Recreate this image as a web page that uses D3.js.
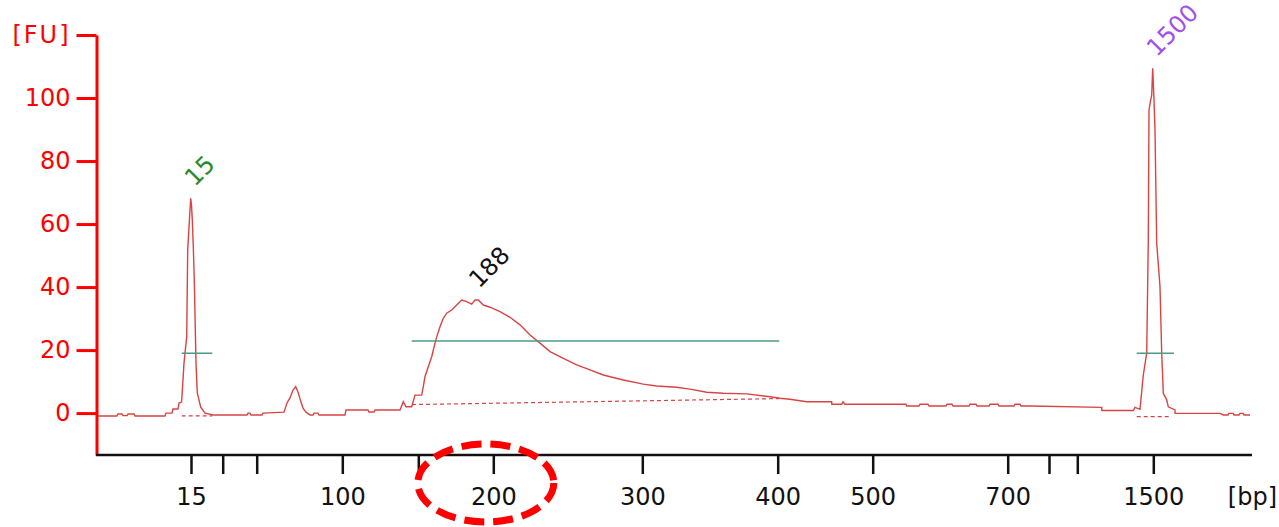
<!DOCTYPE html>
<html>
<head>
<meta charset="utf-8">
<script src="https://cdn.jsdelivr.net/npm/d3@7"></script>
<style>
  body { margin: 0; background: #fff; }
  text { font-family: "DejaVu Sans", Verdana, sans-serif; }
</style>
</head>
<body>
<div id="chart"></div>
<script>
// ladder sizes (bp) and the migration time (s) each one was seen at
const ladderBp   = [15, 25, 50, 100, 150, 200, 300, 400, 500, 700, 850, 1000, 1500];
const ladderTime = [29.5, 32.67, 36.07, 44.63, 52.23, 59.73, 74.63, 88.17, 97.67, 111.17, 115.3, 118.13, 125.73];
const labelledBp = [15, 100, 200, 300, 400, 500, 700, 1500];

const fuTicks = [0, 20, 40, 60, 80, 100, 120];

// electropherogram trace: [time s, FU]
const trace = [
  [20.1,-0.9],[22.1,-0.9],[22.2,-0.3],[22.6,-0.3],[22.7,-0.8],[23.1,-0.8],[23.2,-0.3],[23.8,-0.3],
  [23.9,-0.9],[26.9,-0.9],[27.0,0.0],[27.6,0.0],[27.7,1.3],[28.2,1.3],[28.3,3.2],[28.55,3.5],
  // lower marker
  [28.6,5.4],[28.8,15.9],[29.07,24.2],[29.17,51.8],[29.3,59.0],[29.47,68.2],[29.55,66.0],[29.63,61.3],
  [29.73,52.7],[29.83,42.2],[30.0,15.9],[30.13,6.4],[30.47,1.9],[30.9,0.0],[31.7,-0.6],
  [35.1,-0.6],[35.2,0.0],[35.4,0.0],[35.5,-0.6],[36.6,-0.6],[36.7,0.0],[38.8,0.3],
  // small peak
  [39.1,3.2],[39.4,4.8],[39.7,7.3],[39.97,8.4],[40.2,6.7],[40.4,4.5],[40.7,1.6],[41.0,0.3],[41.4,-0.6],
  [41.7,-0.6],[41.8,0.0],[42.2,0.0],[42.3,-0.6],[44.9,-0.6],[45.0,1.0],[47.2,1.0],[47.3,0.35],
  [47.8,0.35],[47.9,1.0],[50.4,1.0],
  // library smear
  [50.73,3.6],[51.0,2.0],[51.57,2.0],[51.9,5.7],[52.57,5.7],[52.73,8.4],[52.9,11.6],[53.23,14.7],
  [53.57,17.9],[53.9,22.2],[54.07,24.2],[54.4,27.4],[54.73,30.1],[55.07,31.7],[55.57,32.7],[56.07,34.3],
  [56.57,35.9],[57.07,35.4],[57.57,34.6],[57.9,35.9],[58.23,35.9],[58.73,34.3],[59.4,33.6],[60.4,32.2],
  [61.4,30.4],[62.4,28.0],[63.4,24.8],[64.4,22.2],[65.4,19.5],[66.73,17.4],[68.07,15.3],[69.4,13.7],
  [70.73,12.1],[72.73,10.5],[74.73,9.2],[76.07,8.6],[78.07,8.2],[79.4,7.6],[81.07,6.6],[82.73,6.3],
  [85.07,6.1],[87.4,5.2],[88.4,4.7],[89.4,4.4],[91.07,3.6],[93.57,3.6],[93.58,2.8],[94.57,2.8],
  [94.7,3.6],[94.9,2.8],[99.4,2.8],[101.0,2.8],[101.07,2.25],[102.3,2.25],[102.4,2.8],[103.2,2.8],
  [103.3,2.25],[105.0,2.25],[105.1,2.8],[105.6,2.8],[105.7,2.25],[107.3,2.25],[107.4,2.8],[108.0,2.8],
  [108.1,2.25],[109.3,2.25],[109.4,2.8],[110.2,2.8],[110.3,2.25],[111.8,2.25],[111.9,2.8],[112.4,2.8],
  [112.5,2.25],[113.4,2.25],[120.57,1.8],[120.58,0.8],[123.73,0.8],[123.9,1.8],[124.4,1.2],
  // upper marker
  [124.73,12.1],[125.07,19.0],[125.23,54.9],[125.3,96.2],[125.47,99.4],[125.57,100.9],[125.67,109.4],
  [125.8,99.4],[125.9,89.8],[126.07,53.9],[126.4,40.1],[126.57,19.0],[126.73,6.3],[127.07,4.2],
  [127.23,2.0],[127.9,1.0],[127.91,-0.1],[132.4,-0.1],[132.73,-0.6],[133.2,-0.6],[133.3,-0.1],
  [133.7,-0.1],[133.8,-0.6],[134.3,-0.6],[134.4,-0.1],[134.7,-0.1],[134.8,-0.6],[135.4,-0.6]
];

// peak baselines (dashed) and peak / region widths (green)
const baselines = [
  [[28.57, -0.9], [31.63, -0.9]],
  [[51.6, 2.7], [88.3, 4.6]],
  [[124.07, -1.1], [127.57, -1.1]]
];
const widths = [
  [[28.57, 19.0], [31.63, 19.0]],
  [[51.57, 22.9], [88.33, 22.9]],
  [[124.07, 19.0], [127.8, 19.0]]
];

const peakLabels = [
  {t: 29.47, fu: 68.2, text: "15", color: "#2a8a2a"},
  {t: 57.9, fu: 35.9, text: "188", color: "#111"},
  {t: 125.67, fu: 109.4, text: "1500", color: "#a24ff0"}
];

const width = 1279, height = 527;

const svg = d3.select("#chart").append("svg")
  .attr("width", width)
  .attr("height", height);

svg.append("rect").attr("width", width).attr("height", height).attr("fill", "#fff");

const x = d3.scaleLinear().domain([20, 135.6]).range([96, 1252]);
const y = d3.scaleLinear().domain([-13.3, 120]).range([455, 35]);

// bp axis is placed through the ladder calibration
const bpScale = d3.scaleLinear().domain(ladderBp).range(ladderTime.map(t => x(t)));

const line = d3.line().x(d => x(d[0])).y(d => y(d[1]));

// trace
svg.append("path")
  .datum(trace)
  .attr("d", line)
  .attr("fill", "none")
  .attr("stroke", "#d84444")
  .attr("stroke-width", 1.4);

// dashed baselines
svg.selectAll(".baseline")
  .data(baselines)
  .enter().append("path")
  .attr("class", "baseline")
  .attr("d", line)
  .attr("fill", "none")
  .attr("stroke", "#d84444")
  .attr("stroke-width", 1.2)
  .attr("stroke-dasharray", "4 3");

// widths
svg.selectAll(".width")
  .data(widths)
  .enter().append("path")
  .attr("class", "width")
  .attr("d", line)
  .attr("stroke", "#4e9a86")
  .attr("stroke-width", 1.5);

// peak labels
svg.selectAll(".peak-label")
  .data(peakLabels)
  .enter().append("text")
  .attr("class", "peak-label")
  .attr("transform", d => `translate(${x(d.t) + 4}, ${y(d.fu) - 11}) rotate(-45)`)
  .attr("font-size", 24)
  .attr("fill", d => d.color)
  .text(d => d.text);

// y axis
const yAxis = svg.append("g")
  .attr("transform", "translate(96.5,0)")
  .call(d3.axisLeft(y)
    .tickValues(fuTicks)
    .tickSize(20)
    .tickSizeOuter(0)
    .tickPadding(6)
    .tickFormat(d => d === 120 ? "[FU]" : d));

yAxis.select(".domain").attr("stroke", "red").attr("stroke-width", 3);
yAxis.selectAll(".tick line").attr("stroke", "red").attr("stroke-width", 3);
yAxis.selectAll(".tick text")
  .attr("fill", "red")
  .attr("font-size", 24)
  .attr("letter-spacing", d => d === 120 ? 2 : 0)
  .style("font-family", '"DejaVu Sans", Verdana, sans-serif');

// x axis
const xAxis = svg.append("g")
  .attr("transform", "translate(0,455)")
  .call(d3.axisBottom(bpScale)
    .tickValues(ladderBp)
    .tickSize(19)
    .tickSizeOuter(0)
    .tickFormat(d => labelledBp.includes(d) ? d : ""));

xAxis.select(".domain").remove();
xAxis.append("line")
  .attr("x1", x(20))
  .attr("x2", x(135.6))
  .attr("stroke", "#111")
  .attr("stroke-width", 2.5);
xAxis.selectAll(".tick line").attr("stroke", "#111").attr("stroke-width", 2.5);
xAxis.selectAll(".tick text")
  .attr("y", 50)
  .attr("dy", null)
  .attr("fill", "#111")
  .attr("font-size", 24)
  .style("font-family", '"DejaVu Sans", Verdana, sans-serif');

svg.append("text")
  .attr("x", 1277)
  .attr("y", 505)
  .attr("text-anchor", "end")
  .attr("font-size", 24)
  .attr("fill", "#111")
  .text("[bp]");

// red dashed highlight round the 200 label
svg.append("ellipse")
  .attr("cx", bpScale(195))
  .attr("cy", 483)
  .attr("rx", 68)
  .attr("ry", 39)
  .attr("fill", "none")
  .attr("stroke", "#f00")
  .attr("stroke-width", 7)
  .attr("stroke-dasharray", "20 9");
</script>
</body>
</html>
